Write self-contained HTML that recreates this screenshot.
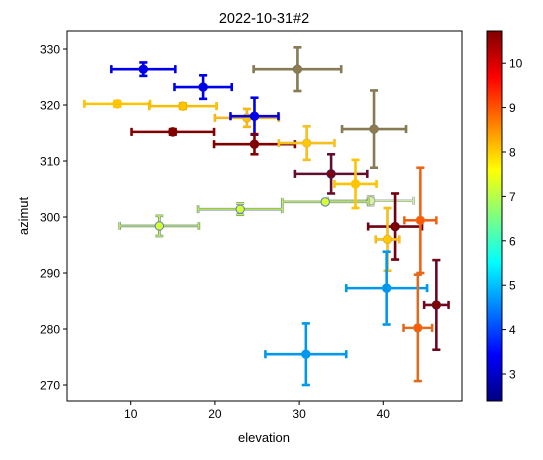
<!DOCTYPE html>
<html><head><meta charset="utf-8"><style>
html,body{margin:0;padding:0;background:#fff;}
svg text{font-family:"Liberation Sans","DejaVu Sans",sans-serif;fill:#000;}
</style></head><body>
<svg id="chart" width="543" height="455" xmlns="http://www.w3.org/2000/svg">
<defs>
<linearGradient id="jet" x1="0" y1="1" x2="0" y2="0">
<stop offset="0" stop-color="#00007f"/><stop offset="0.125" stop-color="#0000ff"/>
<stop offset="0.375" stop-color="#00ffff"/><stop offset="0.625" stop-color="#ffff00"/>
<stop offset="0.875" stop-color="#ff0000"/><stop offset="1" stop-color="#7f0000"/>
</linearGradient>
</defs>
<text x="264" y="23" font-size="14.5" text-anchor="middle">2022-10-31#2</text>
<g id="marks"></g>
<rect x="67" y="31" width="395" height="370" fill="none" stroke="#000" stroke-width="1"/>
<g id="axes"></g>
<text x="264" y="442" font-size="13" text-anchor="middle">elevation</text>
<text transform="translate(28,216) rotate(-90)" font-size="13" text-anchor="middle">azimut</text>
<rect x="487" y="31" width="15" height="370" fill="url(#jet)" stroke="#000" stroke-width="1"/>
<g id="cbar"></g>
</svg>
<script>
const elev  = [11.5,18.6,29.8,8.4,16.2,23.8,24.7,15.0,24.7,30.9,38.9,33.8,38.5,33.1,36.7,23.0,13.4,41.4,44.4,40.5,40.4,46.3,44.1,30.8];
const elevErr=[3.8,3.4,5.2,3.9,4.0,3.8,2.85,4.9,4.8,3.3,3.8,4.3,5.1,5.1,2.5,5.0,4.7,3.2,1.9,1.4,4.8,1.45,1.7,4.8];
const azim  = [326.4,323.2,326.4,320.2,319.8,317.7,318.0,315.2,313.0,313.2,315.7,307.7,302.9,302.7,305.9,301.4,298.4,298.3,299.4,296.0,287.3,284.3,280.2,275.5];
const azimErr=[1.2,2.1,3.9,0.5,0.5,1.6,3.3,0.5,1.8,3.0,6.9,3.5,0.8,0.3,4.3,1.0,1.8,5.9,9.4,5.6,6.5,8.0,9.5,5.5];
const faceColors=["#0000e8","#0000e8","#907a50","#ffc400","#ffc400","#ffc400","#0000e8","#800000","#800000","#ffc800","#907a50","#800010","#d8f0a0","#d4ff30","#ffc400","#d4ff30","#d4ff30","#800000","#ff5a00","#ffc800","#0098ec","#800000","#ff5a00","#0098ec"];
const edgeColors=["#0000e8","#0000e8","#7a7a58","#ffc400","#e8b400","#e8a830","#0000e8","#800000","#800000","#e8b840","#7a7a58","#402050","#a0a8a8","#6080b0","#ffc400","#6080b0","#6080b0","#600020","#e07030","#e8b030","#0098ec","#601040","#c08040","#0098ec"];
const xTicks=[10,20,30,40], yTicks=[270,280,290,300,310,320,330], cTicks=[3,4,5,6,7,8,9,10];
const X=v=>130.7+(v-10)*8.42, Y=v=>49+(330-v)*5.6, C=v=>374-(v-3)*44.4;
const NS="http://www.w3.org/2000/svg";
function mk(tag,attrs,parent){const e=document.createElementNS(NS,tag);for(const k in attrs)e.setAttribute(k,attrs[k]);parent.appendChild(e);return e;}
const marks=document.getElementById('marks');
for(let i=0;i<elev.length;i++){
  const g=mk('g',{},marks);
  
  
  const cx=X(elev[i]),cy=Y(azim[i]),x0=X(elev[i]-elevErr[i]),x1=X(elev[i]+elevErr[i]),y0=Y(azim[i]+azimErr[i]),y1=Y(azim[i]-azimErr[i]);
  const segs=[[x0,cy,x1,cy],[cx,y0,cx,y1],[x0,cy-4,x0,cy+4],[x1,cy-4,x1,cy+4],[cx-4,y0,cx+4,y0],[cx-4,y1,cx+4,y1]];
  for(const [w,c] of [[2.6,edgeColors[i]],[1.2,faceColors[i]]])
    for(const s of segs) mk('line',{x1:s[0],y1:s[1],x2:s[2],y2:s[3],stroke:c,'stroke-width':w},g);
  mk('circle',{cx:cx,cy:cy,r:4.2,fill:faceColors[i],stroke:edgeColors[i],'stroke-width':1},g);
}
const axes=document.getElementById('axes');
xTicks.forEach(t=>{
  const l=mk('line',{x1:X(t),y1:401,x2:X(t),y2:405,stroke:'#000'},axes);
  
  const tx=mk('text',{x:X(t),y:418,'font-size':12,'text-anchor':'middle'},axes);tx.textContent=t;
  
});
yTicks.forEach(t=>{
  const l=mk('line',{x1:63,y1:Y(t),x2:67,y2:Y(t),stroke:'#000'},axes);
  
  const tx=mk('text',{x:60,y:Y(t)+4.5,'font-size':12,'text-anchor':'end'},axes);tx.textContent=t;
  
});
const cb=document.getElementById('cbar');
cTicks.forEach(t=>{
  const l=mk('line',{x1:502,y1:C(t),x2:506,y2:C(t),stroke:'#000'},cb);
  
  const tx=mk('text',{x:509,y:C(t)+4.5,'font-size':12},cb);tx.textContent=t;
  
});
</script>
</body></html>
